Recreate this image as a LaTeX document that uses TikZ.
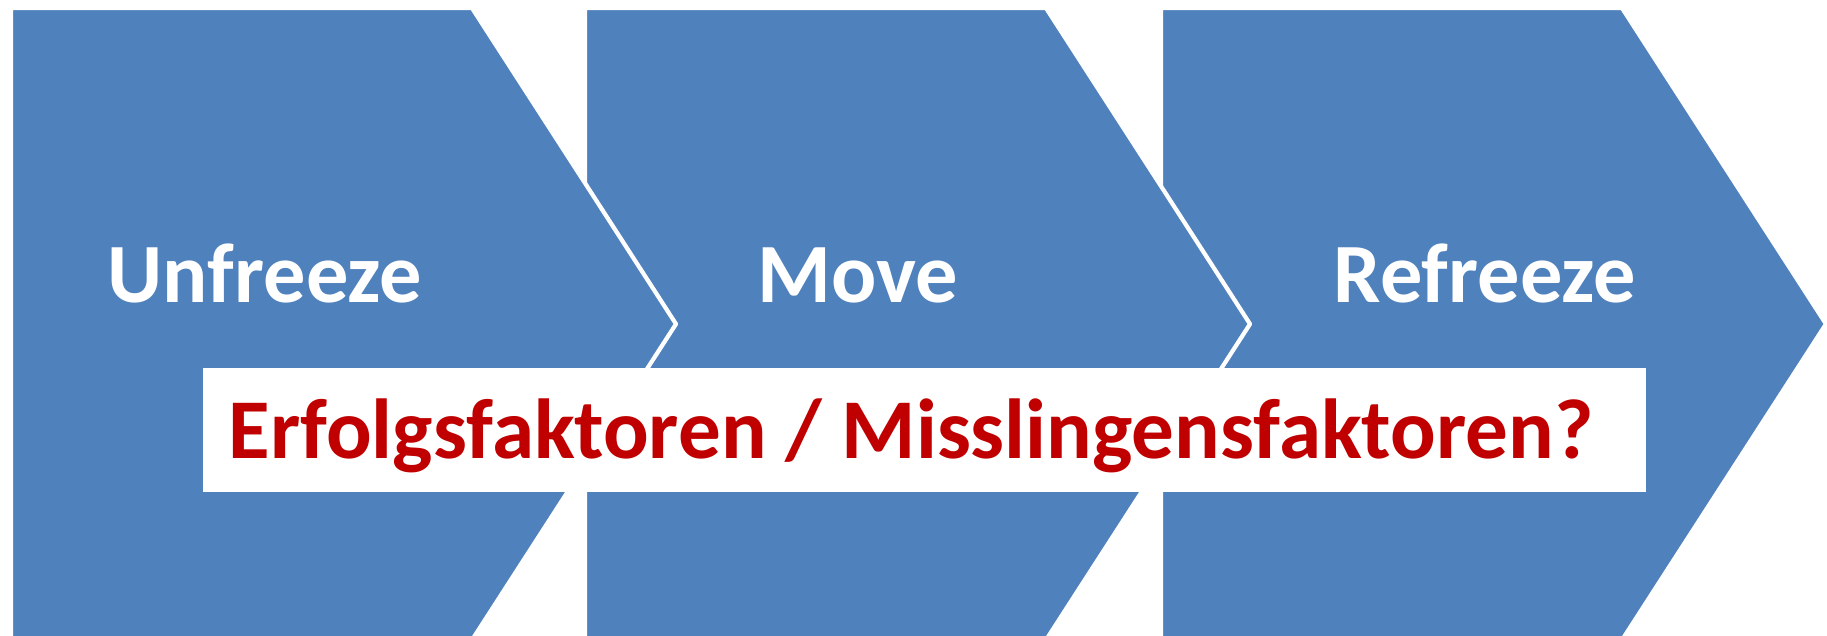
\documentclass[tikz,border=0pt]{standalone}
\usepackage{fontspec}
\setmainfont{Carlito}
\usepackage{tikz}
\usetikzlibrary{positioning}
\definecolor{chevblue}{RGB}{79,129,189}
\definecolor{darkred}{RGB}{192,0,0}

\begin{document}
\begin{tikzpicture}[x=0.01cm,y=-0.01cm,
        chev/.style={fill=chevblue,draw=white,line width=1.2pt,line join=round},
        stage/.style={anchor=base,text=white,font=\bfseries\fontsize{24}{28}\selectfont},
        factors/.style={anchor=base,text=darkred,font=\bfseries\fontsize{24.2}{28}\selectfont}]
      \useasboundingbox (0,0) rectangle (1827,635);
      % chevrons, last one first so each overlaps the next
      \filldraw[chev] (1161,8) -- (1622,8) -- (1826,324) -- (1622,640) -- (1161,640) -- cycle;
      \filldraw[chev] (585,8) -- (1046,8) -- (1250,324) -- (1046,640) -- (585,640) -- cycle;
      \filldraw[chev] (11,8) -- (472,8) -- (676,324) -- (472,640) -- (11,640) -- cycle;
      \node[stage] (unfreeze) at (265,302) {Unfreeze};
      \node[stage] (move) at (858,302) {Move};
      \node[stage] (refreeze) at (1485,302) {Refreeze};
      \node[fill=white,inner sep=0pt,minimum width=14.43cm,minimum height=1.24cm] (box) at (924.5,430) {};
      \node[factors] (text) at (911,458) {Erfolgsfaktoren / Misslingensfaktoren?};
    \end{tikzpicture}
\end{document}
